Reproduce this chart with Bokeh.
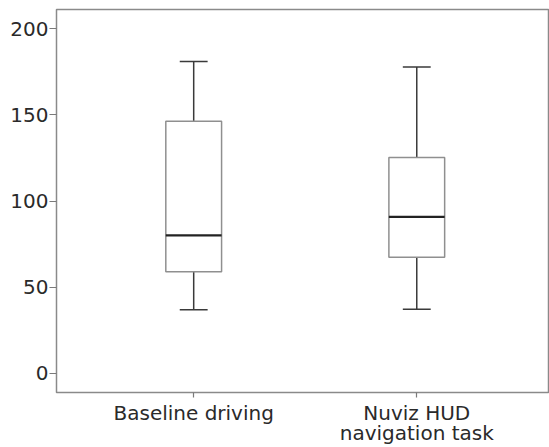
from bokeh.plotting import figure
from bokeh.models import FixedTicker
from bokeh.embed import file_html
from bokeh.resources import INLINE

# Box plot summary statistics per condition
conditions = ["Baseline driving", "Nuviz HUD\nnavigation task"]
positions = [1, 2]
whisker_low = [36.9, 37.2]
q1 = [59.0, 67.3]
median = [80.0, 90.8]
q3 = [146.2, 125.2]
whisker_high = [181.0, 177.7]
y_ticks = [0, 50, 100, 150, 200]

FONT = "DejaVu Sans"

p = figure(width=549, height=447, output_backend="svg", toolbar_location=None,
           x_range=(0.385, 2.595), y_range=(-11.1, 211.1),
           min_border_left=56, min_border_right=0, min_border_top=9, min_border_bottom=50)

p.background_fill_color = "white"
p.border_fill_color = "white"
p.outline_line_color = "#8a8a8a"
p.outline_line_width = 1.5
p.xgrid.visible = False
p.ygrid.visible = False

box_w = 0.25
cap_w = 0.125

# whiskers (vertical stems)
p.segment(x0=positions, y0=q3, x1=positions, y1=whisker_high, line_color="#3a3a3a", line_width=1.5)
p.segment(x0=positions, y0=whisker_low, x1=positions, y1=q1, line_color="#3a3a3a", line_width=1.5)
# whisker caps
p.segment(x0=[x - cap_w / 2 for x in positions], y0=whisker_high,
          x1=[x + cap_w / 2 for x in positions], y1=whisker_high,
          line_color="#3a3a3a", line_width=1.5)
p.segment(x0=[x - cap_w / 2 for x in positions], y0=whisker_low,
          x1=[x + cap_w / 2 for x in positions], y1=whisker_low,
          line_color="#3a3a3a", line_width=1.5)
# boxes
p.vbar(x=positions, width=box_w, bottom=q1, top=q3, fill_color="white",
       line_color="#8f8f8f", line_width=1.5)
# medians
p.segment(x0=[x - box_w / 2 for x in positions], y0=median,
          x1=[x + box_w / 2 for x in positions], y1=median,
          line_color="#222222", line_width=2.2)

# axes
for ax in (p.xaxis[0], p.yaxis[0]):
    ax.axis_line_color = None
    ax.major_tick_line_color = "#7a7a7a"
    ax.major_tick_line_width = 1.2
    ax.minor_tick_line_color = None
    ax.major_label_text_font = FONT
    ax.major_label_text_color = "#2a2a2a"

p.xaxis.ticker = FixedTicker(ticks=positions)
p.xaxis.major_label_overrides = {x: c for x, c in zip(positions, conditions)}
p.xaxis.major_tick_in = 0
p.xaxis.major_tick_out = 5
p.xaxis.major_label_standoff = 3
p.xaxis.major_label_text_font_size = "20px"
p.xaxis.major_label_text_line_height = 0.85

p.yaxis.ticker = FixedTicker(ticks=y_ticks)
p.yaxis.major_tick_in = 0
p.yaxis.major_tick_out = 7
p.yaxis.major_label_standoff = 1
p.yaxis.major_label_text_font_size = "20px"

open("out.html", "w").write(file_html(p, INLINE))
